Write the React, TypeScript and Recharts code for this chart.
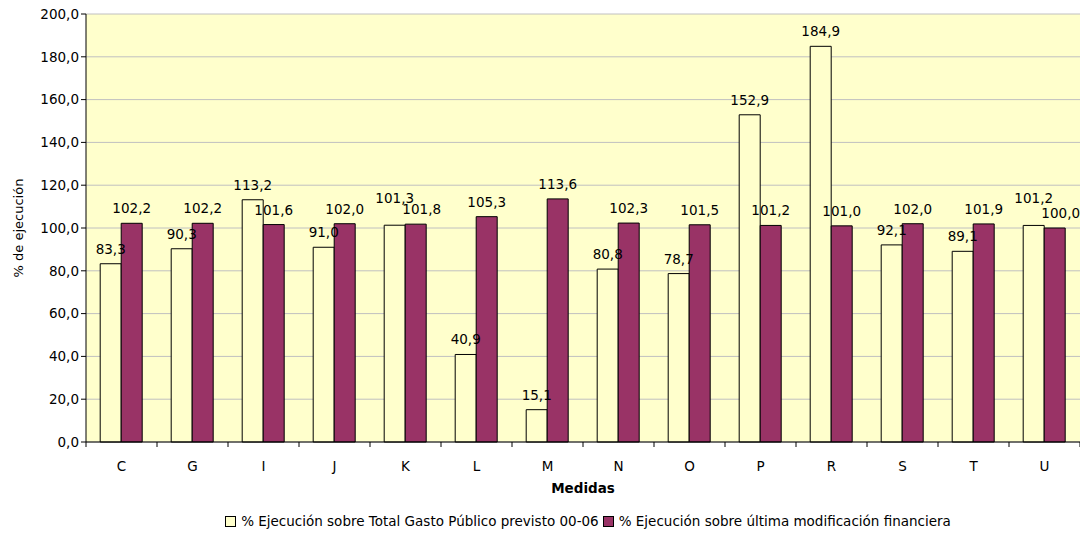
import React from "react";
import {
  BarChart,
  Bar,
  XAxis,
  YAxis,
  CartesianGrid,
  LabelList,
  Legend,
} from "recharts";

const medidas = ["C", "G", "I", "J", "K", "L", "M", "N", "O", "P", "R", "S", "T", "U"];
const ejecTotal = [83.3, 90.3, 113.2, 91.0, 101.3, 40.9, 15.1, 80.8, 78.7, 152.9, 184.9, 92.1, 89.1, 101.2];
const ejecModif = [102.2, 102.2, 101.6, 102.0, 101.8, 105.3, 113.6, 102.3, 101.5, 101.2, 101.0, 102.0, 101.9, 100.0];
const yTicks = [0, 20, 40, 60, 80, 100, 120, 140, 160, 180, 200];

const nameTotal = "% Ejecución sobre Total Gasto Público previsto 00-06";
const nameModif = "% Ejecución sobre última modificación financiera";

const data = medidas.map((m, i) => ({
  medida: m,
  total: ejecTotal[i],
  modif: ejecModif[i],
}));

const FONT = "Tahoma, 'DejaVu Sans', sans-serif";
const fmt = (v: any) => Number(v).toFixed(1).replace(".", ",");

const CHART_W = 1080;
const CHART_H = 535;
const Y_W = 86;
const STEP = (CHART_W - Y_W) / medidas.length;

// category tick with the tick mark drawn on the boundary, like Excel
const XTick = (props: any) => {
  const { x, y, payload, index } = props;
  const left = x - STEP / 2;
  return (
    <g>
      <line x1={left} y1={y - 8} x2={left} y2={y - 3} stroke="#000" />
      {index === medidas.length - 1 && (
        <line x1={x + STEP / 2} y1={y - 8} x2={x + STEP / 2} y2={y - 3} stroke="#000" />
      )}
      <text x={x} y={y + 21} textAnchor="middle" fontSize={13.5} fontFamily={FONT} fill="#000">
        {payload.value}
      </text>
    </g>
  );
};

// value label above a bar; when both bars of a group are about the same height
// the first label is lifted and the second nudged right so they don't collide
const makeLabel = (first: boolean) => (props: any) => {
  const { x, y, width, value, index } = props;
  const close = Math.abs(ejecTotal[index] - ejecModif[index]) < 2;
  const lift = first && close ? 12 : 0;
  const nudge = !first && close ? 6 : 0;
  return (
    <text
      x={x + width / 2 + nudge}
      y={y - 10 - lift}
      textAnchor="middle"
      fontFamily={FONT}
      fontSize={13.5}
      fill="#000"
    >
      {fmt(value)}
    </text>
  );
};

const Swatch = ({ color }: { color: string }) => (
  <span
    style={{
      display: "inline-block",
      width: 9,
      height: 9,
      border: "1px solid #000",
      background: color,
      marginRight: 5,
    }}
  />
);

const LegendBox = () => (
  <div
    style={{
      height: 28,
      display: "flex",
      justifyContent: "center",
      alignItems: "center",
      fontFamily: FONT,
      fontSize: 13.5,
      color: "#000",
      paddingLeft: 96,
    }}
  >
    <Swatch color="#FFFFCC" />
    <span style={{ marginRight: 4 }}>{nameTotal}</span>
    <Swatch color="#993366" />
    <span>{nameModif}</span>
  </div>
);

export default function App() {
  return (
    <div style={{ position: "absolute", left: 0, top: 0, background: "#fff" }}>
      <BarChart
        width={CHART_W}
        height={CHART_H}
        data={data}
        margin={{ top: 14, right: 0, bottom: 0, left: 0 }}
        barCategoryGap="20%"
        barGap={0}
      >
        <CartesianGrid vertical={false} stroke="#C0C0C0" fill="#FFFFCC" />
        <XAxis
          dataKey="medida"
          height={65}
          tick={<XTick />}
          tickLine={false}
          axisLine={{ stroke: "#000" }}
          interval={0}
          label={{
            value: "Medidas",
            position: "insideBottom",
            offset: 14,
            style: { fontFamily: FONT, fontSize: 13.5, fontWeight: "bold", fill: "#000" },
          }}
        />
        <YAxis
          width={Y_W}
          domain={[0, 200]}
          ticks={yTicks}
          interval={0}
          tickFormatter={fmt}
          tick={{ fontFamily: FONT, fontSize: 13.5, fill: "#000" }}
          tickSize={5}
          tickLine={{ stroke: "#000" }}
          axisLine={{ stroke: "#000" }}
          label={{
            value: "% de ejecución",
            angle: -90,
            position: "insideLeft",
            offset: 18,
            style: { fontFamily: FONT, fontSize: 13, fill: "#000", textAnchor: "middle" },
          }}
        />
        <Legend verticalAlign="bottom" content={<LegendBox />} />
        <Bar
          dataKey="total"
          name={nameTotal}
          fill="#FFFFCC"
          stroke="#000"
          strokeWidth={1}
          isAnimationActive={false}
        >
          <LabelList dataKey="total" content={makeLabel(true)} />
        </Bar>
        <Bar
          dataKey="modif"
          name={nameModif}
          fill="#993366"
          stroke="#000"
          strokeWidth={1}
          isAnimationActive={false}
        >
          <LabelList dataKey="modif" content={makeLabel(false)} />
        </Bar>
      </BarChart>
    </div>
  );
}
